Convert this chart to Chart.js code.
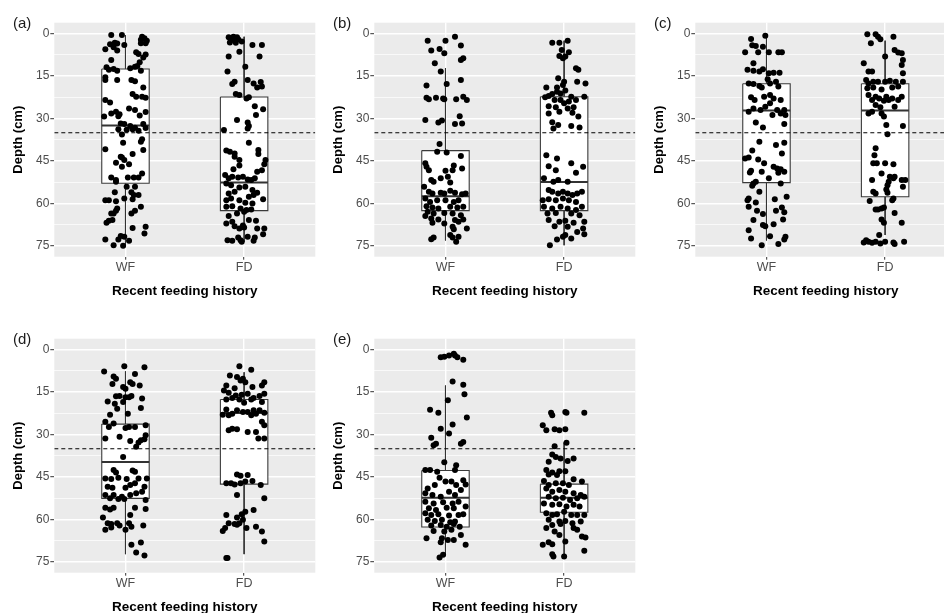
<!DOCTYPE html>
<html><head><meta charset="utf-8">
<script src="https://cdn.jsdelivr.net/npm/chart.js@4.4.1/dist/chart.umd.min.js"></script>
<style>
html,body{margin:0;padding:0;background:#fff;overflow:hidden;width:944px;height:613px;position:relative;}
.panel{position:absolute;width:320px;height:305px;}
.panel canvas{position:absolute;left:0;top:0;}
.tag{position:absolute;left:13px;top:14px;font:15px "Liberation Sans",Arial,sans-serif;color:#1a1a1a;line-height:18px;z-index:2;}
</style></head><body>
<div class="panel" style="left:0;top:0"><canvas id="cA" width="320" height="305"></canvas><div class="tag">(a)</div></div>
<div class="panel" style="left:320px;top:0"><canvas id="cB" width="320" height="305"></canvas><div class="tag">(b)</div></div>
<div class="panel" style="left:641px;top:0"><canvas id="cC" width="320" height="305"></canvas><div class="tag">(c)</div></div>
<div class="panel" style="left:0;top:316px"><canvas id="cD" width="320" height="305"></canvas><div class="tag">(d)</div></div>
<div class="panel" style="left:320px;top:316px"><canvas id="cE" width="320" height="305"></canvas><div class="tag">(e)</div></div>
<script>
// ---------- data ----------
const groups = ['WF', 'FD'];
const yMajorTicks = [0, 15, 30, 45, 60, 75];
const yMinorTicks = [7.5, 22.5, 37.5, 52.5, 67.5];
const thresholdDepth = 35;
const yAxisTitle = 'Depth (cm)';
const xAxisTitle = 'Recent feeding history';

// box stats: [lower whisker, Q1, median, Q3, upper whisker] (depth, cm)
const statsA_WF = [0.5, 12.5, 32.4, 52.8, 74.9];
const statsA_FD = [1.1, 22.4, 52.6, 62.5, 73.5];
const statsB_WF = [12.2, 41.3, 57.4, 62.5, 73.0];
const statsB_FD = [2.5, 22.3, 52.4, 62.5, 74.7];
const statsC_WF = [0.2, 17.7, 27.1, 52.6, 73.0];
const statsC_FD = [2.5, 17.7, 27.1, 57.6, 71.1];
const statsD_WF = [7.7, 26.3, 39.7, 52.5, 72.2];
const statsD_FD = [8.0, 17.6, 22.4, 47.5, 72.2];
const statsE_WF = [12.7, 42.7, 52.3, 62.6, 72.2];
const statsE_FD = [32.8, 47.5, 52.3, 57.4, 73.0];

// observations: [jitter (category units), depth (cm)]
const ptsA_WF = [[-0.12,0.5],[-0.03,0.5],[0.14,1.1],[0.16,1.6],[0.13,2.2],[0.18,2.5],[0.17,3.4],[0.13,3.4],[-0.09,3.2],[-0.07,3.5],[-0.13,3.8],[-0.01,4.0],[-0.17,5.5],[-0.10,4.8],[-0.07,6.0],[0.09,6.6],[0.11,7.2],[0.15,8.4],[0.17,7.4],[-0.12,9.3],[0.12,10.1],[0.08,11.7],[-0.16,11.9],[-0.10,12.5],[-0.14,12.8],[-0.07,13.1],[0.04,12.2],[0.10,11.4],[0.13,13.1],[-0.07,16.4],[-0.17,15.4],[-0.17,16.4],[0.05,16.4],[0.08,16.8],[0.15,19.0],[0.06,21.3],[0.09,22.3],[0.17,22.6],[0.14,22.3],[-0.17,23.4],[-0.13,24.3],[-0.08,27.6],[-0.05,28.5],[-0.06,29.2],[-0.12,28.2],[0.03,26.4],[0.08,27.0],[0.17,27.7],[0.12,28.9],[-0.18,29.3],[-0.04,31.7],[-0.01,31.9],[0.04,32.6],[0.08,33.2],[0.15,31.9],[0.17,33.3],[-0.06,33.8],[0.01,33.9],[0.06,33.8],[0.11,34.3],[-0.03,35.6],[-0.02,38.5],[0.14,37.3],[0.13,38.2],[-0.17,40.8],[0.15,41.1],[0.06,42.5],[-0.03,43.7],[-0.04,43.5],[-0.01,44.6],[-0.08,45.6],[0.03,46.1],[-0.03,47.0],[-0.12,50.8],[-0.08,51.7],[0.02,50.8],[0.07,50.8],[0.11,50.8],[0.14,49.4],[-0.08,52.3],[0.01,54.1],[0.08,54.1],[-0.09,56.0],[0.05,56.0],[0.07,57.0],[0.11,57.0],[-0.01,58.2],[-0.17,58.8],[-0.14,58.8],[-0.08,59.2],[0.06,58.5],[0.13,61.1],[-0.07,61.7],[-0.10,63.5],[-0.12,63.5],[-0.08,62.5],[0.08,62.5],[0.05,63.5],[-0.14,66.1],[-0.16,66.8],[-0.11,65.8],[0.06,68.6],[0.17,68.2],[0.16,70.6],[-0.04,71.4],[-0.01,71.7],[-0.17,72.7],[-0.06,72.7],[0.03,73.1],[-0.10,74.7],[-0.02,74.9]];
const ptsA_FD = [[-0.13,1.3],[-0.09,1.1],[-0.06,1.3],[-0.05,2.0],[-0.10,2.2],[-0.12,3.1],[-0.07,3.2],[-0.02,2.8],[-0.04,6.4],[0.07,4.0],[0.15,4.0],[-0.13,8.1],[0.13,8.1],[0.01,11.7],[-0.14,13.4],[-0.10,17.8],[-0.08,17.0],[0.03,16.4],[0.08,17.6],[0.14,17.1],[0.15,18.7],[0.11,19.0],[-0.07,21.3],[-0.04,21.7],[0.02,22.9],[0.04,22.5],[0.09,25.6],[0.16,26.7],[0.10,28.7],[-0.06,30.5],[0.03,31.4],[0.04,32.6],[0.03,33.5],[-0.17,34.0],[0.04,38.5],[-0.15,41.3],[-0.12,41.7],[-0.08,42.3],[-0.08,43.5],[-0.04,44.6],[0.12,41.1],[0.12,42.5],[0.18,44.6],[0.17,46.1],[0.15,48.2],[0.11,48.8],[-0.04,46.6],[-0.09,47.9],[-0.16,49.9],[-0.13,51.1],[-0.10,50.5],[-0.05,50.8],[-0.01,50.5],[0.03,51.5],[0.06,51.7],[0.09,51.1],[-0.15,52.9],[-0.11,53.5],[-0.04,54.3],[0.01,54.1],[0.07,55.2],[-0.08,55.8],[-0.13,56.4],[0.11,56.2],[0.08,57.0],[-0.11,58.2],[-0.15,58.8],[-0.04,58.8],[0.04,57.6],[0.16,58.5],[0.01,59.7],[0.07,60.0],[-0.10,60.9],[-0.15,61.1],[-0.03,61.7],[0.02,62.3],[0.06,62.1],[-0.06,63.5],[0.00,62.9],[-0.13,64.4],[-0.10,66.4],[-0.15,67.0],[-0.08,68.0],[-0.01,67.7],[-0.04,68.8],[0.00,68.4],[0.04,65.8],[0.10,66.1],[0.11,68.8],[0.17,68.8],[0.16,70.8],[-0.14,72.9],[-0.10,73.1],[-0.05,72.0],[-0.03,72.9],[-0.02,73.5],[0.03,71.7],[0.08,73.1],[0.09,72.0]];
const ptsB_WF = [[-0.15,2.5],[0.00,2.5],[0.08,1.1],[0.13,4.2],[-0.12,6.0],[-0.05,5.4],[-0.01,6.9],[0.15,8.7],[0.13,9.3],[-0.09,10.5],[-0.04,13.4],[-0.16,18.3],[0.01,17.8],[0.13,16.4],[-0.16,22.6],[-0.14,23.2],[-0.08,22.6],[-0.02,22.9],[-0.01,23.2],[0.09,23.2],[0.15,22.3],[0.18,23.4],[-0.17,30.5],[-0.06,31.4],[-0.03,30.7],[0.08,31.9],[0.12,29.2],[0.14,31.7],[-0.05,39.0],[-0.07,41.7],[0.01,42.0],[0.13,43.2],[-0.17,45.8],[-0.16,47.0],[-0.14,48.2],[0.07,46.6],[0.06,48.2],[0.14,47.6],[0.00,48.4],[-0.12,51.7],[-0.10,52.3],[-0.04,51.1],[0.02,50.5],[0.04,52.6],[-0.18,54.1],[-0.14,55.8],[-0.11,56.4],[-0.04,56.2],[-0.01,56.4],[0.04,55.5],[0.08,56.2],[0.14,56.7],[0.17,56.4],[-0.17,58.2],[-0.13,59.4],[-0.07,58.8],[0.00,58.8],[0.07,59.4],[0.11,58.8],[-0.16,60.9],[-0.11,61.4],[-0.06,61.7],[0.04,61.1],[0.10,61.4],[0.15,61.1],[-0.15,62.9],[-0.10,63.5],[-0.01,63.3],[0.06,63.5],[0.13,64.1],[-0.17,64.4],[-0.12,65.3],[-0.06,65.6],[0.08,65.8],[0.15,65.6],[-0.11,66.8],[-0.01,67.0],[0.06,68.2],[0.11,66.4],[0.18,68.8],[0.07,69.1],[-0.10,72.0],[-0.12,72.6],[0.04,71.1],[0.06,72.0],[0.09,73.5],[0.11,71.7]];
const ptsB_FD = [[-0.10,3.2],[-0.04,3.2],[0.03,2.5],[-0.02,5.8],[0.04,6.6],[-0.04,7.9],[-0.01,8.7],[0.01,8.1],[0.10,12.2],[0.12,12.8],[-0.05,15.8],[0.00,17.0],[0.11,17.0],[0.18,17.6],[-0.15,19.0],[-0.06,19.0],[-0.01,18.1],[-0.10,21.3],[-0.16,22.5],[-0.13,22.0],[-0.06,20.5],[-0.03,21.1],[0.01,20.1],[0.06,22.3],[0.10,23.4],[0.17,22.3],[-0.08,23.4],[-0.03,23.4],[0.04,24.0],[0.00,24.6],[-0.13,25.6],[-0.07,26.0],[0.03,26.4],[0.08,26.0],[-0.13,28.2],[-0.04,27.6],[0.07,27.9],[0.12,29.3],[-0.10,31.3],[-0.05,32.3],[0.06,32.6],[0.13,33.1],[-0.09,33.5],[-0.15,42.9],[-0.06,44.1],[0.06,45.8],[-0.13,46.8],[0.16,47.0],[-0.07,48.2],[0.10,49.1],[-0.17,51.1],[-0.09,52.3],[-0.05,51.7],[0.03,52.3],[-0.13,55.2],[-0.10,55.8],[-0.05,56.4],[-0.01,55.8],[0.03,56.4],[0.07,57.0],[0.11,56.4],[0.15,55.8],[-0.18,58.8],[-0.13,58.5],[-0.07,58.8],[-0.01,58.2],[0.04,58.8],[0.10,59.4],[-0.17,61.1],[-0.10,61.7],[-0.03,61.1],[0.03,61.7],[0.10,62.3],[0.15,61.1],[-0.14,63.5],[-0.07,63.3],[0.06,63.5],[0.13,64.1],[-0.13,65.8],[-0.04,66.4],[0.01,66.1],[0.08,66.8],[0.17,66.4],[-0.08,68.0],[0.03,68.2],[0.16,68.8],[0.11,70.0],[0.17,70.8],[0.01,71.1],[-0.01,71.7],[-0.06,72.7],[0.06,72.3],[-0.12,74.7]];
const ptsC_WF = [[-0.13,1.9],[-0.01,0.8],[-0.12,4.1],[-0.09,4.4],[-0.18,6.6],[-0.07,6.6],[0.02,6.6],[0.10,6.6],[0.13,6.6],[-0.03,4.6],[-0.11,10.5],[-0.16,12.8],[-0.11,13.1],[-0.06,13.4],[-0.03,12.6],[0.02,14.0],[0.06,13.8],[0.11,13.8],[0.01,16.1],[-0.15,17.6],[-0.11,17.8],[-0.06,18.5],[-0.04,19.0],[0.03,17.6],[0.08,17.0],[0.10,18.7],[-0.13,22.5],[-0.10,23.4],[-0.02,22.3],[0.03,21.7],[0.06,22.9],[0.12,23.4],[-0.11,26.4],[-0.05,27.0],[-0.01,25.8],[0.03,24.6],[0.09,27.0],[0.15,27.0],[-0.15,27.6],[0.05,28.7],[0.12,28.2],[0.16,28.7],[-0.09,31.4],[-0.03,33.1],[0.15,31.9],[-0.06,38.2],[0.08,39.3],[0.15,38.5],[-0.12,41.3],[-0.18,44.1],[-0.15,43.7],[-0.07,44.4],[0.13,42.3],[-0.02,45.8],[-0.13,48.4],[-0.14,49.0],[-0.04,48.8],[0.06,47.0],[0.09,47.6],[0.12,47.9],[0.10,49.1],[0.15,48.8],[0.02,51.1],[-0.11,52.9],[-0.09,52.3],[-0.12,53.7],[0.12,52.9],[-0.06,55.8],[-0.15,58.2],[-0.16,58.8],[-0.09,59.6],[0.07,58.5],[0.17,57.6],[-0.15,61.1],[-0.08,62.5],[0.13,61.4],[-0.03,63.7],[0.08,62.5],[0.15,63.1],[-0.11,65.8],[-0.01,68.0],[-0.03,67.6],[0.06,67.3],[0.14,65.6],[-0.15,69.4],[-0.13,72.3],[0.03,71.5],[0.10,74.3],[0.15,72.7],[0.16,71.7],[-0.04,74.7]];
const ptsC_FD = [[-0.15,0.2],[-0.12,3.4],[-0.08,0.2],[-0.06,1.1],[-0.04,2.0],[0.07,1.1],[0.08,5.8],[0.11,6.7],[0.14,6.9],[0.00,8.1],[0.15,9.3],[-0.18,10.5],[0.14,11.1],[-0.11,13.4],[0.15,14.0],[-0.14,13.4],[-0.16,16.4],[-0.14,17.6],[-0.10,17.0],[-0.06,17.0],[0.00,17.0],[0.04,16.6],[0.09,17.0],[0.15,17.0],[-0.15,19.3],[-0.10,19.0],[-0.03,19.7],[0.06,19.0],[0.11,18.7],[-0.14,21.7],[-0.08,22.3],[-0.05,22.9],[0.01,22.3],[0.06,22.9],[0.14,22.3],[-0.11,23.4],[-0.01,23.7],[0.03,23.4],[0.11,23.4],[-0.08,25.2],[-0.04,26.0],[0.08,25.8],[-0.14,28.2],[-0.11,27.6],[-0.03,28.2],[-0.01,29.3],[0.15,32.6],[0.01,32.3],[0.02,35.5],[-0.08,40.5],[-0.09,42.9],[-0.10,45.8],[-0.07,45.8],[0.00,45.8],[0.07,46.1],[-0.03,49.4],[0.04,50.5],[0.07,51.1],[0.08,50.5],[0.14,51.7],[0.17,51.7],[-0.11,51.7],[0.03,52.3],[0.02,53.5],[0.15,54.1],[-0.10,55.8],[-0.08,56.4],[0.01,55.0],[0.02,56.2],[-0.13,59.1],[0.06,58.8],[0.07,58.2],[-0.08,62.1],[-0.06,62.1],[-0.03,61.7],[-0.01,61.4],[0.08,63.3],[-0.03,65.6],[-0.01,66.8],[0.14,66.8],[-0.05,71.1],[-0.18,73.7],[-0.16,72.9],[-0.14,73.5],[-0.11,73.8],[-0.08,73.5],[-0.04,74.1],[0.00,73.5],[0.07,73.7],[0.08,74.3],[0.16,73.5]];
const ptsD_WF = [[-0.18,7.7],[-0.01,5.9],[0.16,6.2],[0.08,8.6],[-0.10,9.5],[-0.08,10.3],[0.04,11.5],[0.06,12.1],[0.12,12.7],[-0.02,13.2],[0.00,13.8],[-0.11,12.1],[-0.08,16.5],[-0.05,16.4],[0.00,16.8],[0.03,16.8],[0.05,16.4],[0.14,17.3],[-0.15,18.3],[-0.09,19.1],[-0.02,18.5],[-0.07,20.9],[-0.13,23.0],[0.02,22.6],[0.13,20.6],[-0.17,25.5],[-0.10,26.1],[-0.14,27.3],[0.00,27.7],[0.03,27.3],[0.08,27.3],[0.17,26.7],[-0.17,31.4],[-0.05,30.8],[0.04,32.3],[0.11,32.8],[0.13,32.0],[0.16,31.6],[0.17,30.2],[0.09,34.3],[-0.02,37.9],[-0.10,42.5],[-0.08,43.4],[0.06,42.7],[0.08,43.1],[-0.17,45.5],[-0.12,45.7],[-0.06,45.2],[0.01,45.7],[0.11,45.5],[0.18,45.5],[-0.15,48.4],[-0.11,48.8],[0.00,48.8],[0.04,47.8],[0.08,47.2],[0.16,48.4],[-0.17,51.3],[-0.10,51.3],[-0.03,51.9],[0.04,51.3],[0.09,50.7],[0.14,50.2],[-0.13,52.5],[-0.06,52.7],[-0.01,52.7],[0.17,53.1],[-0.17,55.8],[-0.13,56.4],[-0.10,55.8],[0.08,55.8],[0.17,56.3],[0.04,58.4],[-0.19,59.3],[-0.15,61.3],[-0.12,61.6],[-0.07,61.3],[-0.05,62.1],[0.03,61.3],[0.05,62.5],[-0.17,63.6],[-0.12,62.8],[0.00,63.6],[0.15,62.1],[0.05,68.9],[0.13,68.1],[0.09,71.6],[0.16,72.7]];
const ptsD_FD = [[-0.04,5.9],[0.06,7.1],[-0.12,9.1],[-0.06,9.7],[-0.03,10.9],[-0.01,10.3],[0.01,11.5],[0.17,11.5],[0.15,12.7],[-0.15,12.7],[-0.08,13.6],[0.07,13.2],[-0.17,14.4],[-0.13,15.2],[-0.07,16.2],[-0.02,15.9],[0.03,15.6],[0.08,17.1],[0.13,16.4],[0.17,15.6],[-0.15,17.6],[-0.10,17.1],[-0.04,17.6],[0.00,18.8],[0.06,17.6],[0.15,18.5],[-0.15,21.1],[-0.10,22.6],[-0.06,21.4],[-0.01,22.0],[0.03,22.0],[0.08,21.4],[0.13,21.4],[0.17,22.3],[-0.18,23.0],[-0.13,23.2],[0.06,23.2],[0.10,22.6],[0.15,25.5],[-0.13,28.5],[-0.10,27.9],[-0.06,28.1],[0.03,29.1],[0.10,29.1],[0.17,26.7],[0.12,31.4],[0.17,31.4],[-0.06,44.1],[-0.03,44.5],[0.03,44.3],[-0.15,47.2],[-0.11,47.2],[-0.08,47.6],[-0.03,47.2],[0.01,46.6],[0.07,46.4],[0.14,47.8],[-0.06,51.3],[0.17,52.5],[-0.15,58.4],[-0.06,59.3],[-0.02,58.1],[0.01,57.2],[0.08,56.6],[-0.01,60.1],[-0.13,61.3],[-0.08,61.6],[-0.04,61.3],[-0.18,64.0],[-0.16,63.0],[0.02,63.0],[0.10,62.5],[0.15,64.2],[0.17,67.7],[-0.06,61.8],[-0.15,73.6],[-0.14,73.6]];
const ptsE_WF = [[-0.04,2.7],[-0.01,2.5],[0.03,2.1],[0.07,1.5],[0.08,2.1],[0.10,2.7],[0.15,3.6],[0.06,11.3],[0.15,12.4],[0.16,15.8],[0.02,17.9],[-0.13,21.2],[-0.06,22.3],[0.18,24.0],[0.06,26.4],[-0.04,27.9],[0.03,29.6],[-0.12,31.1],[-0.10,33.8],[-0.08,33.2],[0.13,33.2],[0.15,32.6],[-0.01,39.8],[0.09,40.8],[-0.17,42.5],[-0.13,42.5],[-0.07,43.1],[0.08,42.5],[-0.05,45.2],[-0.09,47.8],[-0.15,49.0],[0.00,46.6],[0.05,46.6],[0.09,47.8],[0.15,46.1],[0.17,47.6],[-0.17,50.7],[-0.11,51.3],[-0.04,51.9],[0.03,50.2],[0.08,51.3],[0.13,49.6],[-0.17,53.7],[-0.10,54.3],[-0.02,53.9],[0.06,54.3],[0.11,53.7],[-0.14,56.0],[-0.08,56.6],[0.01,55.8],[0.07,56.0],[0.17,55.4],[-0.17,57.8],[-0.12,58.4],[-0.06,58.1],[0.03,58.6],[0.11,58.4],[0.15,58.1],[-0.15,60.1],[-0.09,60.5],[-0.03,60.1],[0.04,60.9],[0.08,60.7],[-0.12,62.1],[-0.04,61.9],[0.01,62.5],[0.07,61.6],[0.12,62.5],[-0.10,64.0],[-0.01,64.2],[0.05,63.6],[0.13,65.4],[-0.16,66.6],[-0.03,66.6],[0.02,67.2],[0.07,67.2],[-0.04,68.0],[0.17,68.9],[-0.05,73.4],[-0.02,72.4]];
const ptsE_FD = [[-0.11,22.3],[-0.10,23.2],[0.01,22.0],[0.02,22.3],[0.17,22.3],[-0.18,26.7],[-0.15,28.5],[-0.08,28.1],[-0.04,28.5],[0.01,28.1],[-0.08,34.1],[0.02,32.9],[-0.10,37.0],[-0.07,37.9],[-0.03,38.4],[0.08,38.4],[0.03,39.3],[-0.13,39.6],[-0.15,42.5],[-0.10,43.4],[-0.04,42.9],[0.01,42.9],[-0.13,44.1],[-0.06,44.3],[0.08,45.8],[0.15,46.6],[-0.17,46.4],[-0.13,47.8],[-0.07,47.2],[-0.01,47.2],[0.04,47.8],[-0.15,49.0],[-0.10,50.2],[-0.04,49.6],[0.01,50.2],[0.08,50.7],[0.14,51.3],[0.17,51.9],[-0.13,51.9],[-0.07,52.5],[-0.01,52.3],[0.05,53.1],[0.11,52.5],[-0.17,54.3],[-0.10,54.8],[-0.04,54.6],[0.02,55.4],[0.08,54.8],[0.13,55.4],[-0.15,57.8],[-0.10,58.4],[-0.06,58.1],[0.00,57.2],[0.06,58.4],[0.11,58.4],[0.17,58.4],[-0.13,60.1],[-0.04,60.7],[0.01,60.5],[0.07,61.3],[0.14,60.7],[-0.10,61.9],[-0.03,61.6],[0.08,63.0],[-0.15,63.0],[0.11,63.6],[0.15,66.0],[0.18,66.3],[-0.08,64.2],[-0.04,65.4],[0.01,67.7],[-0.18,68.9],[-0.13,68.0],[-0.10,68.7],[0.17,71.0],[-0.10,72.2],[-0.09,73.0],[0.00,73.0]];

// ---------- drawing ----------
const X_MIN = 0.4, X_MAX = 2.6, BOX_HALF = 0.2;
const Y_MIN = -3.85, Y_MAX = 78.75;
const FONT = '"Liberation Sans", Arial, Helvetica, sans-serif';
Chart.defaults.font.family = FONT;

const panelBg = {
  id: 'panelBg',
  beforeDraw(chart) {
    const { ctx, chartArea: a } = chart;
    ctx.save();
    ctx.fillStyle = '#EBEBEB';
    ctx.fillRect(a.left, a.top, a.right - a.left, a.bottom - a.top);
    ctx.restore();
  }
};

function boxDatasets(g, s) {
  const [lo, q1, med, q3, hi] = s;
  const base = { type: 'line', pointRadius: 0, pointHoverRadius: 0, tension: 0 };
  return [
    Object.assign({}, base, { data: [{x: g, y: lo}, {x: g, y: hi}], borderColor: '#333333', borderWidth: 1, fill: false, order: 5 }),
    Object.assign({}, base, { data: [{x: g - BOX_HALF, y: q1}, {x: g + BOX_HALF, y: q1}, {x: g + BOX_HALF, y: q3}, {x: g - BOX_HALF, y: q3}, {x: g - BOX_HALF, y: q1}],
      borderColor: '#3a3a3a', borderWidth: 1.1, backgroundColor: '#ffffff', fill: 'shape', order: 4 }),
    Object.assign({}, base, { data: [{x: g - BOX_HALF, y: med}, {x: g + BOX_HALF, y: med}], borderColor: '#333333', borderWidth: 2, fill: false, order: 3 })
  ];
}

function makePanel(id, statsWF, statsFD, ptsWF, ptsFD) {
  const allY = yMajorTicks.concat(yMinorTicks).sort((a, b) => a - b);
  const datasets = [
    { type: 'line', data: [{x: X_MIN, y: thresholdDepth}, {x: X_MAX, y: thresholdDepth}], borderColor: '#000', borderWidth: 1,
      borderDash: [4, 3], pointRadius: 0, fill: false, order: 0 },
    { type: 'scatter', data: ptsWF.map(p => ({x: 1 + p[0], y: p[1]})).concat(ptsFD.map(p => ({x: 2 + p[0], y: p[1]}))),
      backgroundColor: '#000', borderWidth: 0, pointRadius: 3, pointHoverRadius: 3, order: 1 }
  ].concat(boxDatasets(1, statsWF), boxDatasets(2, statsFD));

  new Chart(document.getElementById(id), {
    type: 'scatter',
    data: { datasets },
    plugins: [panelBg],
    options: {
      responsive: false, animation: false, events: [],
      layout: { padding: { left: 0, top: 22.7, right: 4.7, bottom: 0 } },
      plugins: { legend: { display: false }, tooltip: { enabled: false } },
      scales: {
        x: {
          type: 'linear', min: X_MIN, max: X_MAX,
          afterBuildTicks: s => { s.ticks = [{value: 1}, {value: 2}]; },
          afterFit: s => { s.height = 48.3; },
          ticks: { autoSkip: false, callback: v => groups[Math.round(v) - 1], color: '#4D4D4D', font: { size: 12.5 }, padding: 0 },
          grid: { color: '#ffffff', lineWidth: 1.4, tickColor: '#333333', tickLength: 3, tickWidth: 1 },
          border: { display: false },
          title: { display: true, text: xAxisTitle, color: '#000', font: { size: 13.5, weight: 'bold' }, padding: { top: 0, bottom: 5.2 } }
        },
        y: {
          type: 'linear', reverse: true, min: Y_MIN, max: Y_MAX,
          afterBuildTicks: s => { s.ticks = allY.map(v => ({value: v})); },
          afterFit: s => { s.width = 54.3; },
          ticks: { autoSkip: false, callback: v => yMajorTicks.includes(v) ? String(v) : '', color: '#4D4D4D', font: { size: 12 }, padding: 1 },
          grid: {
            color: '#ffffff',
            lineWidth: c => yMajorTicks.includes(c.tick.value) ? 1.4 : 0.7,
            tickColor: c => yMajorTicks.includes(c.tick.value) ? '#333333' : 'rgba(0,0,0,0)',
            tickLength: 4, tickWidth: 1
          },
          border: { display: false },
          title: { display: true, text: yAxisTitle, color: '#000', font: { size: 13, weight: 'bold' }, padding: { top: 10.8, bottom: 0 } }
        }
      }
    }
  });
}

makePanel('cA', statsA_WF, statsA_FD, ptsA_WF, ptsA_FD);
makePanel('cB', statsB_WF, statsB_FD, ptsB_WF, ptsB_FD);
makePanel('cC', statsC_WF, statsC_FD, ptsC_WF, ptsC_FD);
makePanel('cD', statsD_WF, statsD_FD, ptsD_WF, ptsD_FD);
makePanel('cE', statsE_WF, statsE_FD, ptsE_WF, ptsE_FD);
</script>
</body></html>
